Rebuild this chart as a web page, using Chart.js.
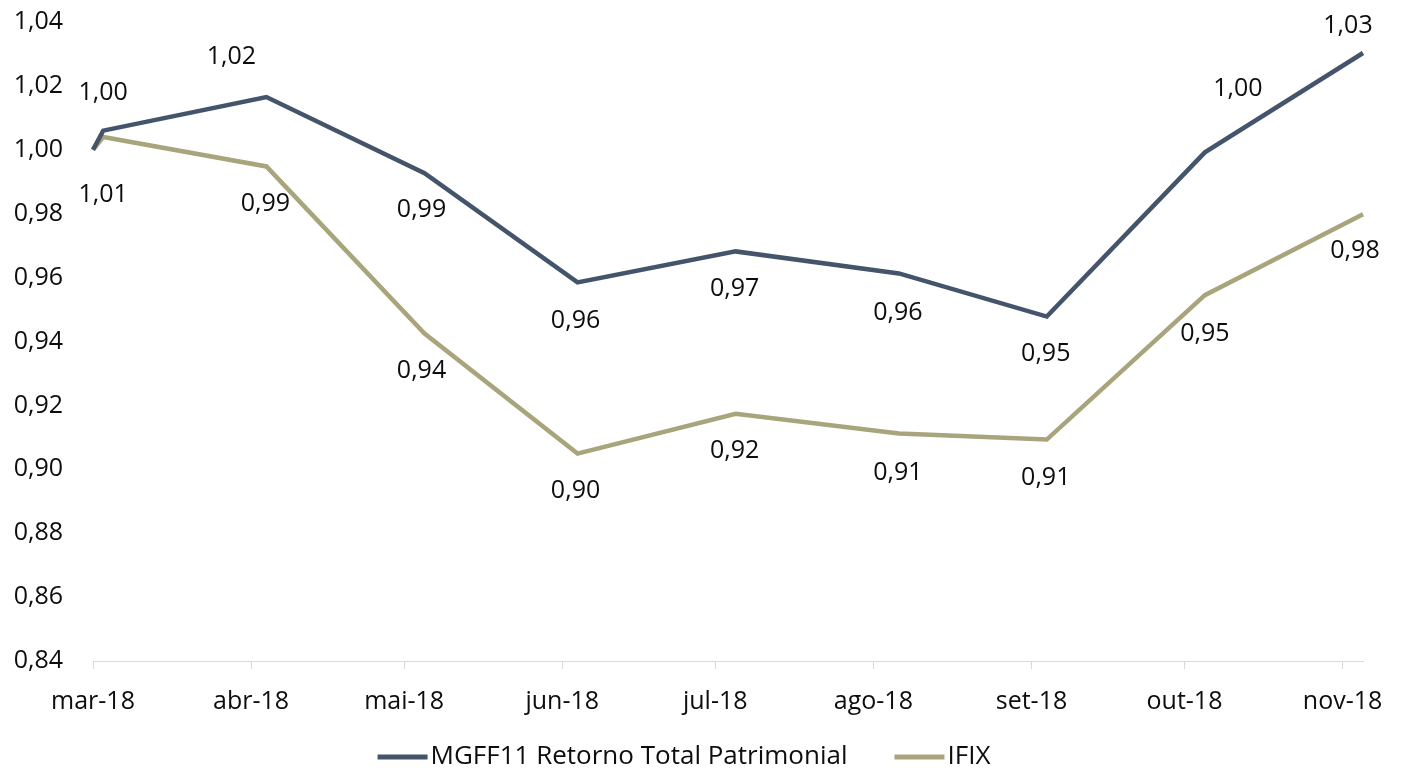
<!DOCTYPE html>
<html>
<head>
<meta charset="utf-8">
<script src="https://cdn.jsdelivr.net/npm/chart.js@4.4.1/dist/chart.umd.min.js"></script>
<style>
  html, body { margin: 0; padding: 0; background: #ffffff; }
  #wrap { width: 1408px; height: 773px; }
</style>
</head>
<body>
<div id="wrap"><canvas id="chart" width="1408" height="773"></canvas></div>
<script>
// Observation dates (start of period plus one reading per month)
const obsDates = ['2018-03-01', '2018-03-03', '2018-04-04', '2018-05-05', '2018-06-04',
                  '2018-07-05', '2018-08-06', '2018-09-04', '2018-10-05', '2018-11-05'];

// Cumulative return index, base 1,00
const mgffValues = [1.000, 1.006, 1.0165, 0.9927, 0.9585, 0.9682, 0.9613, 0.9478, 0.9992, 1.0303];
const ifixValues = [1.000, 1.004, 0.9948, 0.9425, 0.9049, 0.9174, 0.9112, 0.9093, 0.9545, 0.9798];

const seriesNames = ['MGFF11 Retorno Total Patrimonial', 'IFIX'];

// Month ticks on the date axis
const monthStarts = ['2018-03-01', '2018-04-01', '2018-05-01', '2018-06-01', '2018-07-01',
                     '2018-08-01', '2018-09-01', '2018-10-01', '2018-11-01'];
const monthLabels = ['mar-18', 'abr-18', 'mai-18', 'jun-18', 'jul-18', 'ago-18', 'set-18', 'out-18', 'nov-18'];

// Value axis ticks
const yTicks = [0.84, 0.86, 0.88, 0.90, 0.92, 0.94, 0.96, 0.98, 1.00, 1.02, 1.04];

const DAY = 86400000;
const origin = Date.UTC(2018, 2, 1);
const toDay = s => {
  const [y, m, d] = s.split('-').map(Number);
  return (Date.UTC(y, m - 1, d) - origin) / DAY;
};
const xs = obsDates.map(toDay);
const tickDays = monthStarts.map(toDay);
const fmt = v => v.toFixed(2).replace('.', ',');

const FONT = "'Open Sans', 'DejaVu Sans', sans-serif";
const DARK = '#44546A';
const TAN = '#A8A47C';

// Label placement around each point: [dx, dy] from the point to the text centre
const labelOffsets = [
  [null, [0, 64], [-35, -40], [-3, 37], [-2, 38], [-1, 37], [-1, 39], [-1, 37], [33, -63], [-15, -27]],
  [null, [0, -44], [-1, 37], [-3, 37], [-2, 37], [-1, 37], [-1, 39], [-1, 38], [0, 39], [-8, 37]]
];

const valueLabels = {
  id: 'valueLabels',
  afterDatasetsDraw(chart) {
    const ctx = chart.ctx;
    ctx.save();
    ctx.font = '25px ' + FONT;
    ctx.fillStyle = '#0d0d0d';
    ctx.textAlign = 'center';
    ctx.textBaseline = 'middle';
    chart.data.datasets.forEach((ds, di) => {
      const meta = chart.getDatasetMeta(di);
      meta.data.forEach((pt, i) => {
        const off = labelOffsets[di][i];
        if (!off) return;
        ctx.fillText(fmt(ds.data[i].y), pt.x + off[0], pt.y + off[1]);
      });
    });
    ctx.restore();
  }
};

// Legend drawn as line swatches followed by the series names
const lineLegend = {
  id: 'lineLegend',
  afterDraw(chart) {
    const ctx = chart.ctx;
    ctx.save();
    ctx.font = '26px ' + FONT;
    ctx.textBaseline = 'middle';
    ctx.textAlign = 'left';
    const swatch = 50, gap = 3, between = 47;
    const items = chart.data.datasets.map(ds => ({
      text: ds.label, color: ds.borderColor, w: swatch + gap + ctx.measureText(ds.label).width
    }));
    const total = items.reduce((a, it) => a + it.w, 0) + between * (items.length - 1);
    let x = chart.width / 2 - 20 - total / 2;
    const y = 757;
    items.forEach(it => {
      ctx.fillStyle = it.color;
      ctx.fillRect(x, y - 2.5, swatch, 5);
      ctx.fillStyle = '#0d0d0d';
      ctx.fillText(it.text, x + swatch + gap, y);
      x += it.w + between;
    });
    ctx.restore();
  }
};

const makeData = vals => vals.map((v, i) => ({ x: xs[i], y: v }));

new Chart(document.getElementById('chart'), {
  type: 'line',
  data: {
    datasets: [
      { label: seriesNames[0], data: makeData(mgffValues), borderColor: DARK, backgroundColor: DARK,
        borderWidth: 4.5, pointRadius: 0, tension: 0, clip: false },
      { label: seriesNames[1], data: makeData(ifixValues), borderColor: TAN, backgroundColor: TAN,
        borderWidth: 4.5, pointRadius: 0, tension: 0, clip: false }
    ]
  },
  options: {
    responsive: false,
    animation: false,
    devicePixelRatio: 1,
    layout: { padding: { top: 22, right: 45, bottom: 38, left: 0 } },
    plugins: { legend: { display: false }, tooltip: { enabled: false } },
    scales: {
      x: {
        type: 'linear',
        min: xs[0],
        max: xs[xs.length - 1],
        afterBuildTicks: s => { s.ticks = tickDays.map(v => ({ value: v })); },
        ticks: {
          autoSkip: false,
          maxRotation: 0,
          padding: 18,
          color: '#0d0d0d',
          font: { family: FONT, size: 25 },
          callback: (v, i) => monthLabels[i]
        },
        grid: { drawOnChartArea: false, drawTicks: true, tickLength: 8, color: '#d9d9d9' },
        border: { display: true, color: '#d9d9d9', width: 1 }
      },
      y: {
        min: yTicks[0],
        max: yTicks[yTicks.length - 1],
        afterBuildTicks: s => { s.ticks = yTicks.map(v => ({ value: v })); },
        afterFit: s => { s.width = 93; },
        ticks: {
          padding: 4,
          color: '#0d0d0d',
          font: { family: FONT, size: 25 },
          callback: v => fmt(v)
        },
        grid: { display: false, drawTicks: true, tickLength: 26 },
        border: { display: false }
      }
    }
  },
  plugins: [valueLabels, lineLegend]
});
</script>
</body>
</html>
